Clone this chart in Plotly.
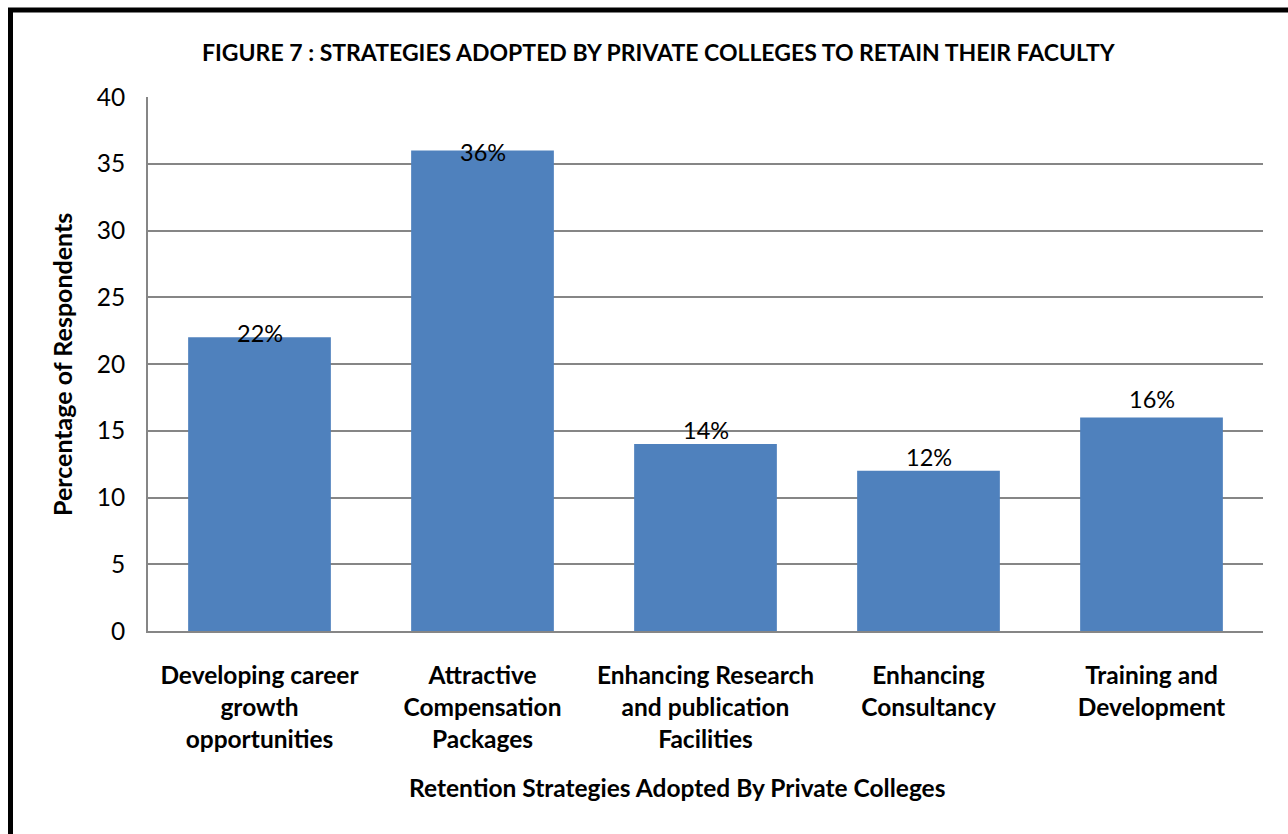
import plotly.graph_objects as go

categories = [
    "Developing career<br>growth<br>opportunities",
    "Attractive<br>Compensation<br>Packages",
    "Enhancing Research<br>and publication<br>Facilities",
    "Enhancing<br>Consultancy",
    "Training and<br>Development",
]
values = [22, 36, 14, 12, 16]
value_labels = ["22%", "36%", "14%", "12%", "16%"]
y_ticks = [0, 5, 10, 15, 20, 25, 30, 35, 40]

FONT = "Lato, 'Open Sans', sans-serif"
label_shift = [4, -2, 14, 14, 18]  # style: vertical nudge of each data label centre

fig = go.Figure()
fig.add_trace(go.Bar(
    x=categories, y=values,
    marker=dict(color="#4F81BD", line=dict(width=0)),
    width=0.64,
    hoverinfo="skip",
))

for c, v, t, s in zip(categories, values, value_labels, label_shift):
    fig.add_annotation(x=c, y=v, xref="x", yref="y", text=t, showarrow=False,
                       yanchor="middle", yshift=s,
                       font=dict(family=FONT, size=23.5, color="black"))

fig.add_annotation(x=(659 - 148) / 1115, y=(631 - 52) / 534, xref="paper", yref="paper",
                   text="<b>FIGURE 7 : STRATEGIES ADOPTED BY PRIVATE COLLEGES TO RETAIN THEIR FACULTY</b>",
                   showarrow=False, xanchor="center", yanchor="middle",
                   font=dict(family=FONT, size=23, color="black"))
fig.add_annotation(x=(677 - 148) / 1115, y=(631 - 787) / 534, xref="paper", yref="paper",
                   text="<b>Retention Strategies Adopted By Private Colleges</b>",
                   showarrow=False, xanchor="center", yanchor="middle",
                   font=dict(family=FONT, size=24.5, color="black"))
fig.add_annotation(x=(62 - 148) / 1115, y=(631 - 365) / 534, xref="paper", yref="paper",
                   text="<b>Percentage of Respondents</b>", textangle=-90,
                   showarrow=False, xanchor="center", yanchor="middle",
                   font=dict(family=FONT, size=25, color="black"))

# outer frame
fig.add_shape(type="rect", xref="paper", yref="paper",
              x0=(10.5 - 148) / 1115, x1=(1400 - 148) / 1115,
              y0=(631 - 950) / 534, y1=(631 - 10) / 534,
              line=dict(color="black", width=5), fillcolor="rgba(0,0,0,0)", layer="above")

fig.update_layout(
    width=1288, height=834,
    margin=dict(l=148, r=25, t=97, b=203),
    paper_bgcolor="white", plot_bgcolor="white",
    showlegend=False,
    bargap=0.36,
    font=dict(family=FONT, color="black"),
    xaxis=dict(
        showgrid=False, showline=True, linecolor="#868686", linewidth=2,
        ticks="outside", ticklen=22, tickcolor="rgba(0,0,0,0)",
        tickfont=dict(family=FONT, size=24.5, color="black"),
        tickprefix="<b>", ticksuffix="</b>",
    ),
    yaxis=dict(
        range=[0, 40], tickvals=y_ticks, showgrid=True, gridcolor="#868686", gridwidth=1.5,
        showline=True, linecolor="#868686", linewidth=2, zeroline=False,
        ticks="outside", ticklen=16, tickcolor="rgba(0,0,0,0)",
        tickfont=dict(family=FONT, size=24.5, color="black"),
    ),
)

fig.write_html("out.html")
